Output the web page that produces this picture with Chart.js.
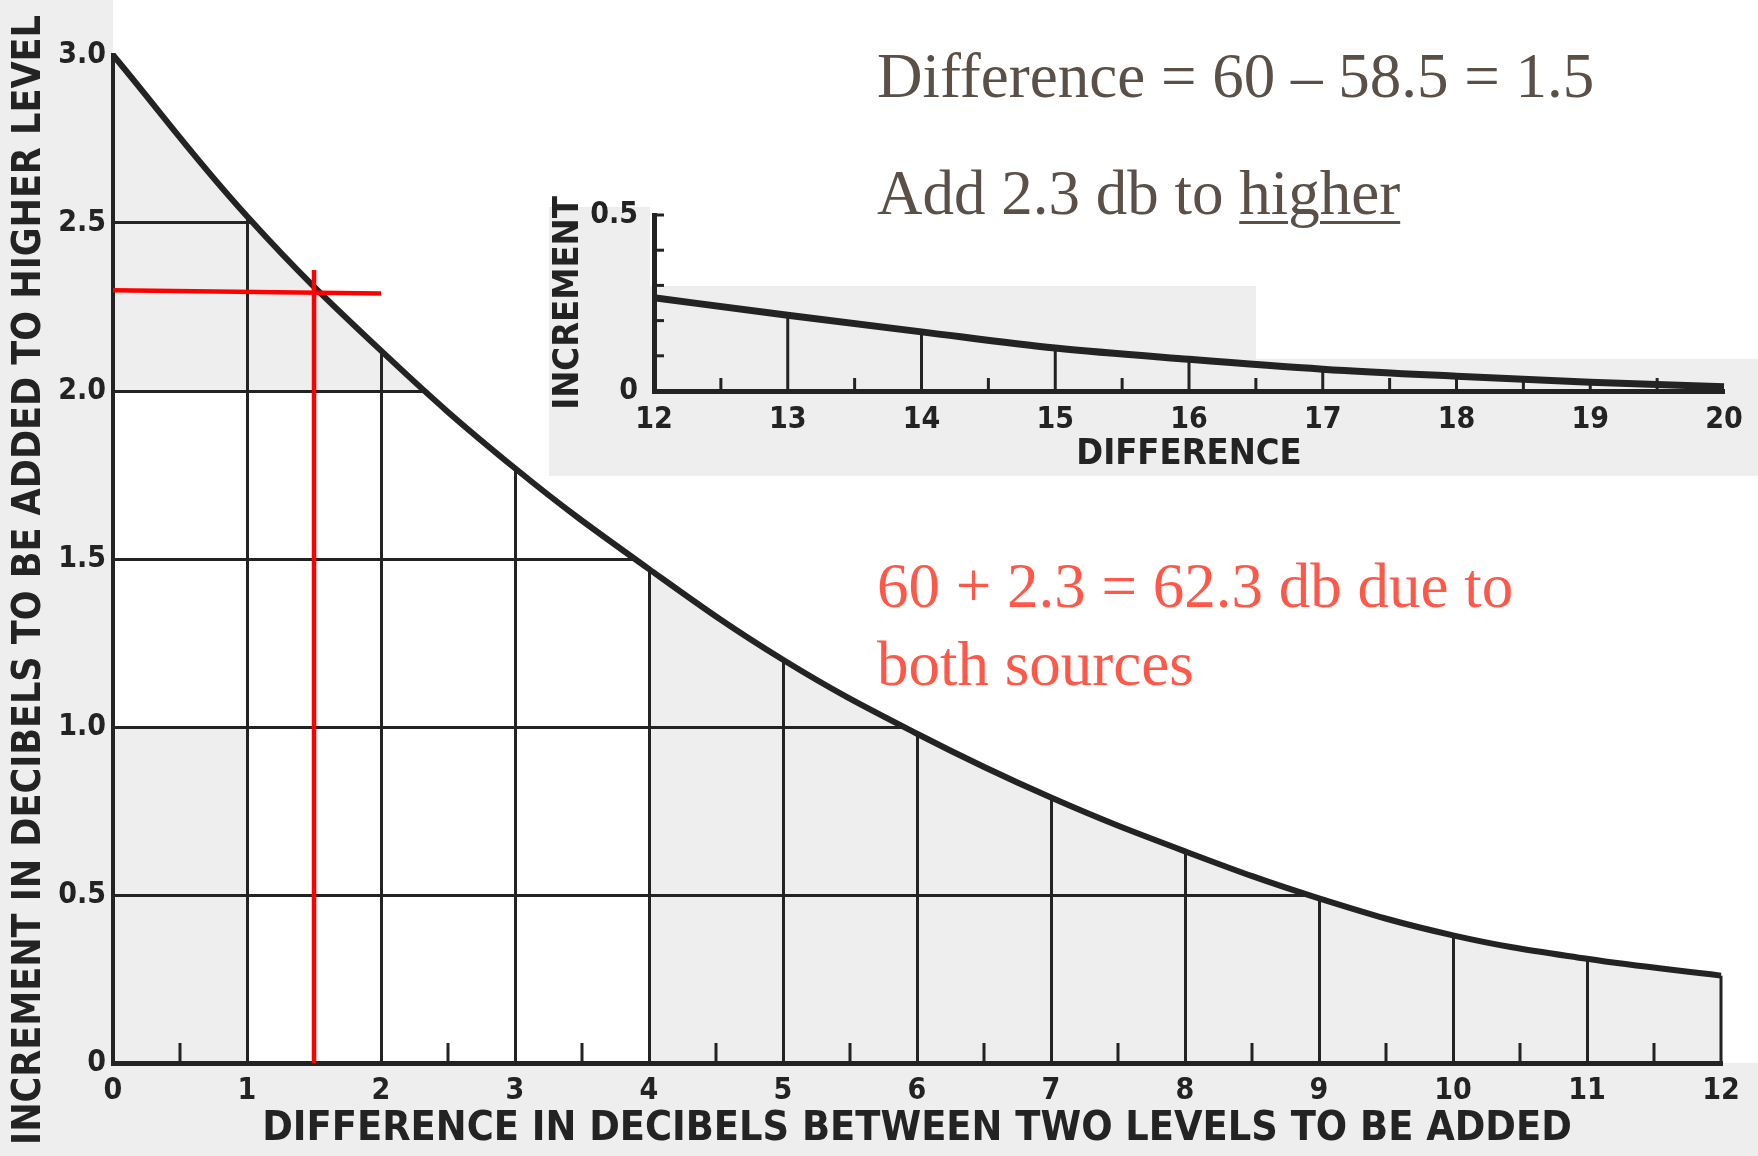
<!DOCTYPE html>
<html lang="en">
<head>
  <meta charset="UTF-8">
  <title>Adding two sound levels</title>
  <script src="https://cdn.jsdelivr.net/npm/chart.js"></script>
  <style>
    body { margin: 0; width: 1758px; height: 1156px; overflow: hidden; background: #fff; position: relative; }
    canvas { position: absolute; }
    #main { left: 0; top: 0; }
    #tail { left: 540px; top: 170px; }
    .note { position: absolute; left: 877px; font-family: 'Liberation Serif', 'Times New Roman', serif; font-size: 63px; line-height: 63px; white-space: nowrap; }
    .dark { color: #5a5048; }
    .red { color: #ff5848; }
    .note u { text-decoration-thickness: 3px; text-underline-offset: 7px; }
  </style>
</head>
<body>
<canvas id="main" width="1758" height="1156"></canvas>
<canvas id="tail" width="1218" height="306"></canvas>

<div class="note dark" style="top:45px">Difference = 60 – 58.5 = 1.5</div>
<div class="note dark" style="top:162px">Add 2.3 db to <u>higher</u></div>
<div class="note red" style="top:555px">60 + 2.3 = 62.3 db due to</div>
<div class="note red" style="top:633px">both sources</div>

<script>
  // difference between the two levels (dB) and the increment to add to the higher one
  const diffDb = [0, 1, 2, 3, 4, 5, 6, 7, 8, 9, 10, 11, 12];
  const incrementDb = [3.0, 2.52, 2.12, 1.77, 1.47, 1.2, 0.98, 0.79, 0.63, 0.49, 0.38, 0.31, 0.26];
  const yLabels = ['0', '0.5', '1.0', '1.5', '2.0', '2.5', '3.0'];
  const yTitle = 'INCREMENT IN DECIBELS TO BE ADDED TO HIGHER LEVEL';

  // continuation of the curve past 12 dB
  const diffTail = [12, 13, 14, 15, 16, 17, 18, 19, 20];
  const incrementTail = [0.265, 0.215, 0.168, 0.122, 0.09, 0.062, 0.042, 0.025, 0.012];

  // worked example: 60 dB and 58.5 dB
  const exampleDiff = 1.5;
  const exampleAdd = 2.3;
  const readLineEnd = [2.0, 2.29];   // x, y where the reading line stops
  const diffLineTop = 2.36;

  const AXIS_FONT = "'DejaVu Sans Condensed', 'Liberation Sans Narrow', 'DejaVu Sans', sans-serif";
  const ink = '#232323';
  const paperGray = '#eeeeee';
  const clear = 'rgba(0,0,0,0)';

  const pts = (xs, ys) => xs.map((x, i) => ({x: x, y: ys[i]}));

  // scanned-paper look: gray margins and plot, a whiter block in the middle
  const paper = {
    id: 'paper',
    beforeDraw(chart) {
      const {ctx, chartArea: a, scales: {x, y}} = chart;
      const rect = (x0, y0, x1, y1) => {
        const l = x.getPixelForValue(x0), r = x.getPixelForValue(x1);
        const t = y.getPixelForValue(y1), b = y.getPixelForValue(y0);
        ctx.fillRect(l, t, r - l, b - t);
      };
      ctx.save();
      ctx.fillStyle = paperGray;
      ctx.fillRect(0, 0, a.left, chart.height);
      ctx.fillRect(0, a.bottom, chart.width, chart.height - a.bottom);
      ctx.fillRect(a.left, a.top, a.right - a.left, a.bottom - a.top);
      ctx.fillStyle = '#ffffff';
      rect(1, 0, 4, 2);
      rect(0, 1, 1, 2);
      ctx.restore();
    }
  };

  // half-dB marks on the x axis and the closing edge at the last point
  const halfTicks = {
    id: 'halfTicks',
    beforeDatasetsDraw(chart, args, opts) {
      const {ctx, scales: {x, y}} = chart;
      ctx.save();
      ctx.strokeStyle = ink;
      ctx.lineWidth = 3;
      for (let v = x.min + 0.5; v < x.max; v += 1) {
        const px = x.getPixelForValue(v);
        ctx.beginPath();
        ctx.moveTo(px, y.bottom);
        ctx.lineTo(px, y.bottom - opts.len);
        ctx.stroke();
      }
      const last = diffDb.length - 1;
      const ex = x.getPixelForValue(diffDb[last]);
      ctx.beginPath();
      ctx.moveTo(ex, y.bottom);
      ctx.lineTo(ex, y.getPixelForValue(incrementDb[last]));
      ctx.stroke();
      ctx.restore();
    }
  };

  // the long vertical axis title runs a little below the plot centre
  const sideTitle = {
    id: 'sideTitle',
    afterDraw(chart, args, opts) {
      const {ctx} = chart;
      ctx.save();
      ctx.translate(opts.x, opts.y);
      ctx.rotate(-Math.PI / 2);
      ctx.font = 'bold ' + opts.size + 'px ' + AXIS_FONT;
      ctx.fillStyle = ink;
      ctx.textAlign = 'center';
      ctx.textBaseline = 'middle';
      ctx.fillText(yTitle, 0, 0);
      ctx.restore();
    }
  };

  const tickFont = {family: AXIS_FONT, size: 30, weight: 'bold'};

  new Chart(document.getElementById('main'), {
    type: 'line',
    data: {
      datasets: [
        {
          label: 'reading',
          data: [{x: 0, y: exampleAdd}, {x: readLineEnd[0], y: readLineEnd[1]}],
          borderColor: '#ff0000', borderWidth: 4.5, pointRadius: 0, order: 0, clip: false
        },
        {
          label: 'difference',
          data: [{x: exampleDiff, y: 0}, {x: exampleDiff, y: diffLineTop}],
          borderColor: '#ff0000', borderWidth: 4.5, pointRadius: 0, order: 0, clip: false
        },
        {
          label: 'increment',
          data: pts(diffDb, incrementDb),
          borderColor: ink, borderWidth: 6, pointRadius: 0,
          tension: 0.4,
          fill: 'end', backgroundColor: '#ffffff',
          order: 1, clip: 8
        }
      ]
    },
    options: {
      responsive: false,
      animation: false,
      devicePixelRatio: 1,
      layout: {padding: {top: 55, right: 37, left: 0, bottom: 0}},
      plugins: {
        legend: {display: false},
        tooltip: {enabled: false},
        halfTicks: {len: 20},
        sideTitle: {x: 30, y: 580, size: 39}
      },
      scales: {
        x: {
          type: 'linear', min: 0, max: 12,
          afterFit(s) { s.height = 93; },
          ticks: {stepSize: 1, padding: 10, color: ink, font: tickFont},
          grid: {color: c => (c.tick && c.tick.value >= 12) ? clear : ink, lineWidth: 3, drawTicks: false},
          border: {color: ink, width: 5},
          title: {
            display: true,
            text: 'DIFFERENCE IN DECIBELS BETWEEN TWO LEVELS TO BE ADDED',
            color: ink, padding: {top: 0, bottom: 2},
            font: {family: AXIS_FONT, size: 41, weight: 'bold'}
          }
        },
        y: {
          type: 'linear', min: 0, max: 3,
          afterFit(s) { s.width = 113; },
          ticks: {stepSize: 0.5, padding: 7, color: ink, font: tickFont, autoSkip: false,
                  callback: (v, i) => yLabels[i]},
          grid: {color: c => (c.tick && c.tick.value >= 3) ? clear : ink, lineWidth: 3, drawTicks: false},
          border: {color: ink, width: 4}
        }
      }
    },
    plugins: [paper, halfTicks, sideTitle]
  });

  // tail chart: gray paper patches, then grid lines that stop at the curve
  const tailPaper = {
    id: 'tailPaper',
    beforeDraw(chart) {
      const {ctx} = chart;
      ctx.save();
      ctx.fillStyle = paperGray;
      ctx.fillRect(9, 116, 707, 190);
      ctx.fillRect(716, 189, 502, 117);
      ctx.fillRect(9, 37, 101, 79);
      ctx.restore();
    },
    beforeDatasetsDraw(chart) {
      const {ctx, scales: {x, y}} = chart;
      ctx.save();
      ctx.strokeStyle = ink;
      ctx.lineWidth = 3;
      const seg = (x0, y0, x1, y1) => { ctx.beginPath(); ctx.moveTo(x0, y0); ctx.lineTo(x1, y1); ctx.stroke(); };
      for (let i = 1; i < diffTail.length - 1; i++) {
        const px = x.getPixelForValue(diffTail[i]);
        seg(px, y.bottom, px, y.getPixelForValue(incrementTail[i]));
      }
      for (let v = x.min + 0.5; v < x.max; v += 1) {
        const px = x.getPixelForValue(v);
        seg(px, y.bottom, px, y.bottom - 13);
      }
      for (let k = 1; k <= 5; k++) {
        const py = y.getPixelForValue(k / 10);
        seg(x.left, py, x.left + 10, py);
      }
      ctx.restore();
    }
  };

  const tailFont = {family: AXIS_FONT, size: 30, weight: 'bold'};

  new Chart(document.getElementById('tail'), {
    type: 'line',
    data: {
      datasets: [{
        label: 'increment',
        data: pts(diffTail, incrementTail),
        borderColor: ink, borderWidth: 7, pointRadius: 0,
        cubicInterpolationMode: 'monotone', fill: false, clip: 8
      }]
    },
    options: {
      responsive: false,
      animation: false,
      devicePixelRatio: 1,
      layout: {padding: {top: 45, right: 34, left: 0, bottom: 0}},
      plugins: {legend: {display: false}, tooltip: {enabled: false}},
      scales: {
        x: {
          type: 'linear', min: 12, max: 20,
          afterFit(s) { s.height = 85; },
          ticks: {stepSize: 1, padding: 3, color: ink, font: tailFont},
          grid: {display: false},
          border: {color: ink, width: 5},
          title: {display: true, text: 'DIFFERENCE', color: ink, padding: {top: 0, bottom: 0},
                  font: {family: AXIS_FONT, size: 36, weight: 'bold'}}
        },
        y: {
          type: 'linear', min: 0, max: 0.5,
          afterFit(s) { s.width = 114; },
          ticks: {stepSize: 0.1, padding: 8, color: ink, font: tailFont, autoSkip: false,
                  callback: v => Math.abs(v) < 1e-9 ? '0' : (Math.abs(v - 0.5) < 1e-9 ? '0.5' : '')},
          grid: {display: false},
          border: {color: ink, width: 5},
          title: {display: true, text: 'INCREMENT', color: ink, padding: {top: 7, bottom: 0},
                  font: {family: AXIS_FONT, size: 36, weight: 'bold'}}
        }
      }
    },
    plugins: [tailPaper]
  });
</script>
</body>
</html>
